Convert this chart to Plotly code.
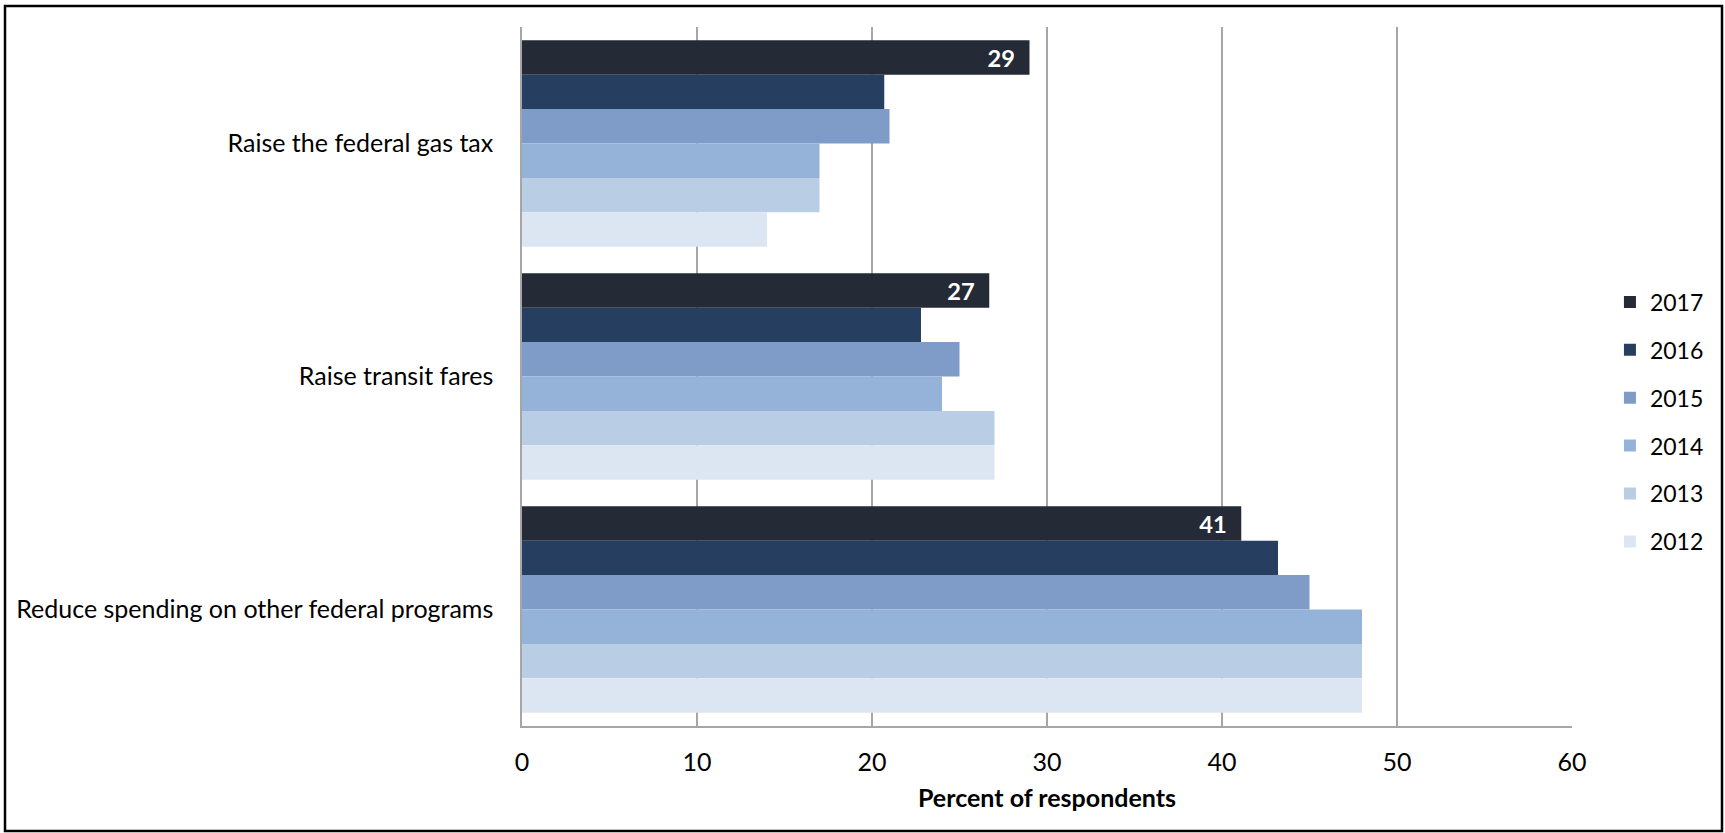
import plotly.graph_objects as go

categories = ["Raise the federal gas tax", "Raise transit fares", "Reduce spending on other federal programs"]
years = ["2017", "2016", "2015", "2014", "2013", "2012"]
values_2017 = [29, 26.7, 41.1]
values_2016 = [20.7, 22.8, 43.2]
values_2015 = [21, 25, 45]
values_2014 = [17, 24, 48]
values_2013 = [17, 27, 48]
values_2012 = [14, 27, 48]
series = [values_2017, values_2016, values_2015, values_2014, values_2013, values_2012]
colors = ["#242a36", "#263f60", "#7f9cc8", "#95b3d8", "#b9cde5", "#dce6f2"]
labelled = ["2017"]
x_ticks = [0, 10, 20, 30, 40, 50, 60]

FONT = "Lato"
FS = 25

fig = go.Figure()
for yr, vals, col in zip(years, series, colors):
    kw = {}
    if yr in labelled:
        kw = dict(
            texttemplate="%{x:.0f}\u00a0\u00a0",
            textposition="inside",
            insidetextanchor="end",
            textangle=0,
            textfont=dict(family=FONT, size=FS, color="white", weight="bold"),
        )
    fig.add_trace(go.Bar(
        y=categories, x=vals, name=yr, orientation="h",
        marker=dict(color=col, line=dict(width=0)),
        legendgroup=yr, hoverinfo="skip", **kw,
    ))

fig.update_layout(
    width=1725, height=833,
    margin=dict(l=522, r=153, t=27, b=107, autoexpand=False),
    paper_bgcolor="white", plot_bgcolor="white",
    barmode="group", bargap=0.114, bargroupgap=0,
    font=dict(family=FONT, size=FS, color="#000000"),
    showlegend=True,
    legend=dict(
        xref="container", x=0.9333, xanchor="left",
        yref="paper", y=0.435, yanchor="middle",
        font=dict(family=FONT, size=23, color="#000000"),
        tracegroupgap=15, traceorder="grouped",
        bgcolor="rgba(0,0,0,0)",
    ),
    uniformtext=dict(mode=False),
)

fig.update_xaxes(
    range=[0, 60], tickvals=x_ticks, ticktext=[str(t) for t in x_ticks],
    showgrid=True, gridcolor="#a6a6a6", gridwidth=1.5,
    showline=True, linecolor="#a6a6a6", linewidth=1.5,
    ticks="", ticklabelstandoff=13, zeroline=False,
    title=dict(text="<b>Percent of respondents</b>", standoff=15,
               font=dict(family=FONT, size=FS, color="#000000")),
    tickfont=dict(family=FONT, size=FS, color="#000000"),
    fixedrange=True,
)
fig.update_yaxes(
    autorange="reversed", type="category",
    showline=True, linecolor="#a6a6a6", linewidth=1.5,
    showgrid=False, ticks="", ticklabelstandoff=22,
    tickfont=dict(family=FONT, size=FS, color="#000000"),
    fixedrange=True,
)

# outer frame around whole figure
fig.add_shape(
    type="rect", xref="paper", yref="paper",
    x0=(5 - 522) / 1050, x1=(1722 - 522) / 1050,
    y0=-(831 - 726) / 699, y1=1 + (27 - 6) / 699,
    line=dict(color="black", width=2.5), fillcolor="rgba(0,0,0,0)", layer="above",
)

fig.write_html("out.html", config={"displayModeBar": False},
               post_script="document.body.style.margin='0';")
